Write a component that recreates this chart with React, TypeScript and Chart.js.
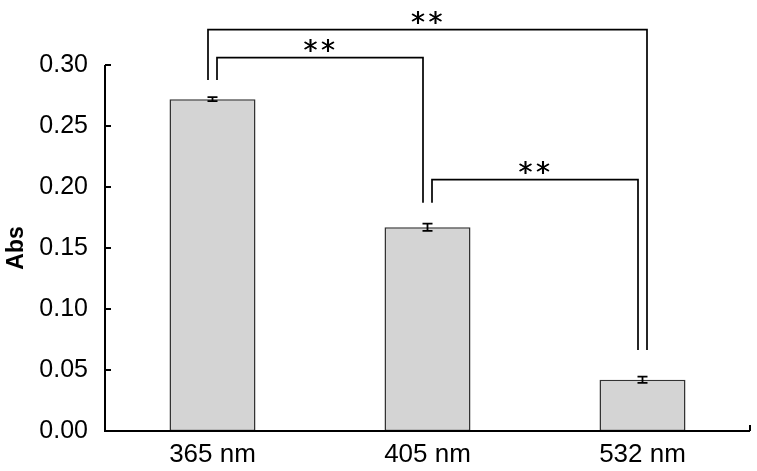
import React, { useEffect, useRef } from 'react';
import { Chart, registerables } from 'chart.js';

Chart.register(...registerables);

// ---- data ----
const categories = ['365 nm', '405 nm', '532 nm'];
const absValues = [0.272, 0.167, 0.042];
const absErrors = [0.0016, 0.003, 0.0026];
const yMin = 0;
const yMax = 0.3;
const yStep = 0.05;
const yTitle = 'Abs';

// significance brackets
const bracketStart = [0, 1, 0];
const bracketEnd = [1, 2, 2];
const bracketHeight = [0.306, 0.206, 0.329];
const bracketLabels = ['**', '**', '**'];
const legBase = [0.2877, 0.187, 0.0664];

const FONT = "'Liberation Sans', Arial, sans-serif";

const overlayPlugin = {
  id: 'overlay',
  afterDatasetsDraw(chart: any) {
    const ctx = chart.ctx;
    const area = chart.chartArea;
    const xs = chart.scales.x;
    const ys = chart.scales.y;
    ctx.save();

    // error bars
    ctx.strokeStyle = '#000';
    ctx.lineWidth = 1.8;
    absValues.forEach((v, i) => {
      const x = xs.getPixelForValue(i);
      const yTop = ys.getPixelForValue(v + absErrors[i]);
      const yBot = ys.getPixelForValue(v - absErrors[i]);
      ctx.beginPath();
      ctx.moveTo(x, yTop);
      ctx.lineTo(x, yBot);
      ctx.moveTo(x - 5, yTop);
      ctx.lineTo(x + 5, yTop);
      ctx.moveTo(x - 5, yBot);
      ctx.lineTo(x + 5, yBot);
      ctx.stroke();
    });

    // axes
    ctx.lineWidth = 2;
    ctx.beginPath();
    ctx.moveTo(area.left, area.top);
    ctx.lineTo(area.left, area.bottom);
    ctx.lineTo(area.right, area.bottom);
    ctx.stroke();
    // y ticks (inside)
    ys.ticks.forEach((t: any) => {
      const y = ys.getPixelForValue(t.value);
      ctx.beginPath();
      ctx.moveTo(area.left, y);
      ctx.lineTo(area.left + 6, y);
      ctx.stroke();
    });
    // right end tick
    ctx.beginPath();
    ctx.moveTo(area.right, area.bottom);
    ctx.lineTo(area.right, area.bottom - 6);
    ctx.stroke();

    // brackets
    ctx.lineWidth = 1.7;
    ctx.fillStyle = '#000';
    ctx.font = "28px 'DejaVu Sans', sans-serif";
    ctx.textAlign = 'center';
    ctx.textBaseline = 'alphabetic';
    const off = 4.5;
    bracketStart.forEach((s, k) => {
      const e = bracketEnd[k];
      const outer = e - s > 1;
      const x1 = xs.getPixelForValue(s) + (outer ? -off : off);
      const x2 = xs.getPixelForValue(e) + (outer ? off : -off);
      const yLine = ys.getPixelForValue(bracketHeight[k]);
      const y1 = ys.getPixelForValue(legBase[s]);
      const y2 = ys.getPixelForValue(legBase[e]);
      ctx.beginPath();
      ctx.moveTo(x1, y1);
      ctx.lineTo(x1, yLine);
      ctx.lineTo(x2, yLine);
      ctx.lineTo(x2, y2);
      ctx.stroke();
      const label = bracketLabels[k];
      const m = ctx.measureText('*');
      const bottom = yLine - 5;
      const base = bottom - m.actualBoundingBoxDescent;
      const cx = (x1 + x2) / 2 - 1;
      const n = label.length;
      for (let j = 0; j < n; j++) {
        const dx = (j - (n - 1) / 2) * 17.5;
        ctx.fillText(label[j], cx + dx, base);
        ctx.fillText(label[j], cx + dx + 0.5, base);
      }
    });

    ctx.restore();
  },
};

export default function App() {
  const ref = useRef<HTMLCanvasElement | null>(null);
  useEffect(() => {
    if (!ref.current) return;
    const chart = new Chart(ref.current, {
      type: 'bar',
      data: {
        labels: categories,
        datasets: [
          {
            data: absValues,
            backgroundColor: '#d4d4d4',
            borderColor: '#333333',
            borderWidth: 1.6,
            borderSkipped: false,
            barPercentage: 0.8,
            categoryPercentage: 0.5,
          },
        ],
      },
      options: {
        responsive: false,
        animation: false,
        devicePixelRatio: 1,
        layout: { padding: { top: 65, right: 7, left: 0, bottom: 0 } },
        plugins: {
          legend: { display: false },
          tooltip: { enabled: false },
        },
        scales: {
          x: {
            grid: { display: false, drawTicks: false },
            border: { display: false },
            ticks: {
              color: '#000',
              font: { family: FONT, size: 26 },
              padding: 8,
            },
            afterFit: (scale: any) => {
              scale.height = 40;
            },
          },
          y: {
            min: yMin,
            max: yMax,
            grid: { display: false, drawTicks: false },
            border: { display: false },
            ticks: {
              stepSize: yStep,
              color: '#000',
              font: { family: FONT, size: 25 },
              padding: 17,
              callback: (v: any) => Number(v).toFixed(2),
            },
            title: {
              display: true,
              text: yTitle,
              color: '#000',
              font: { family: FONT, size: 23, weight: 'bold' },
              padding: { top: 3, bottom: 0 },
            },
            afterFit: (scale: any) => {
              scale.width = 105;
            },
          },
        },
      },
      plugins: [overlayPlugin],
    });
    return () => chart.destroy();
  }, []);
  return (
    <div style={{ position: 'fixed', left: 0, top: 0, width: 757, height: 471, background: '#fff' }}>
      <canvas ref={ref} width={757} height={471} />
    </div>
  );
}
